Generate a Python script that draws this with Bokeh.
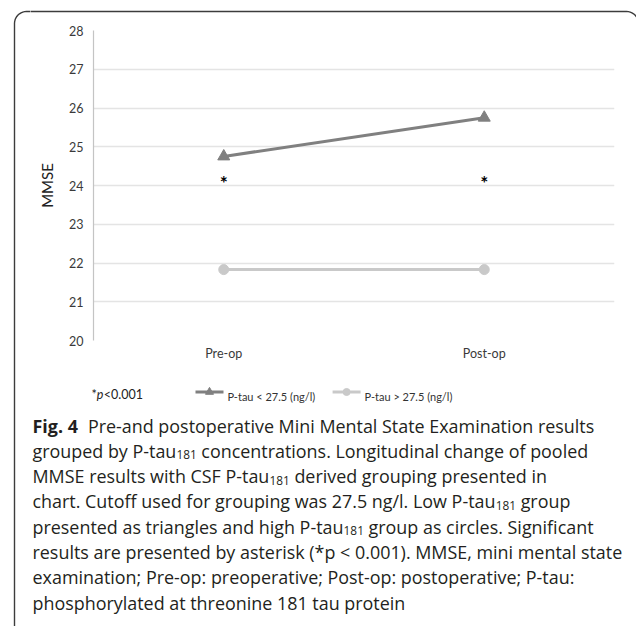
import math
import struct
import subprocess

from bokeh.core.properties import value
from bokeh.embed import file_html
from bokeh.layouts import column, row
from bokeh.models import ColumnDataSource, FactorRange, FixedTicker, Range1d
from bokeh.plotting import figure
from bokeh.resources import INLINE

# ---------------- data ----------------
categories = ["Pre-op", "Post-op"]
low_ptau = [24.75, 25.75]      # P-tau < 27.5 (triangles)
high_ptau = [21.83, 21.83]     # P-tau > 27.5 (circles)
sig_y = [24.15, 24.15]         # asterisk positions
sig_text = ["*", "*"]
y_ticks = [20, 21, 22, 23, 24, 25, 26, 27, 28]
legend_labels = ["P-tau < 27.5 (ng/l)", "P-tau > 27.5 (ng/l)"]
y_title = "MMSE"
note_parts = [("*", "normal"), ("p", "italic"), ("<0.001", "normal")]

caption_lines = [
    [("Fig. 4", "b"), ("  Pre-and postoperative Mini Mental State Examination results", "r")],
    [("grouped by P-tau", "r"), ("181", "sub"), (" concentrations. Longitudinal change of pooled", "r")],
    [("MMSE results with CSF P-tau", "r"), ("181", "sub"), (" derived grouping presented in", "r")],
    [("chart. Cutoff used for grouping was 27.5 ng/l. Low P-tau", "r"), ("181", "sub"), (" group", "r")],
    [("presented as triangles and high P-tau", "r"), ("181", "sub"), (" group as circles. Significant", "r")],
    [("results are presented by asterisk (*p < 0.001). MMSE, mini mental state", "r")],
    [("examination; Pre-op: preoperative; Post-op: postoperative; P-tau:", "r")],
    [("phosphorylated at threonine 181 tau protein", "r")],
]


# ---------------- font metrics (for placing text segments) ----------------
class Metrics:
    def __init__(self, path):
        d = open(path, "rb").read()
        if d[:4] == b"ttcf":
            raise ValueError("collection")
        n = struct.unpack(">H", d[4:6])[0]
        t = {}
        for i in range(n):
            tag, _, off, _ln = struct.unpack(">4sIII", d[12 + 16 * i:28 + 16 * i])
            t[tag] = off
        self.upem = struct.unpack(">H", d[t[b"head"] + 18:t[b"head"] + 20])[0]
        nhm = struct.unpack(">H", d[t[b"hhea"] + 34:t[b"hhea"] + 36])[0]
        ho = t[b"hmtx"]
        self.adv = [struct.unpack(">H", d[ho + 4 * i:ho + 4 * i + 2])[0] for i in range(nhm)]
        co = t[b"cmap"]
        nsub = struct.unpack(">H", d[co + 2:co + 4])[0]
        sub = None
        for i in range(nsub):
            pid, eid, so = struct.unpack(">HHI", d[co + 4 + 8 * i:co + 12 + 8 * i])
            if struct.unpack(">H", d[co + so:co + so + 2])[0] == 4:
                sub = co + so
                if pid == 3 and eid == 1:
                    break
        segx2 = struct.unpack(">H", d[sub + 6:sub + 8])[0]
        ns = segx2 // 2
        ends = struct.unpack(">%dH" % ns, d[sub + 14:sub + 14 + segx2])
        starts = struct.unpack(">%dH" % ns, d[sub + 16 + segx2:sub + 16 + 2 * segx2])
        deltas = struct.unpack(">%dh" % ns, d[sub + 16 + 2 * segx2:sub + 16 + 3 * segx2])
        ro = sub + 16 + 3 * segx2
        roffs = struct.unpack(">%dH" % ns, d[ro:ro + segx2])
        self.cmap = {}
        for s in range(ns):
            for c in range(starts[s], min(ends[s], 0x24FF) + 1):
                if roffs[s] == 0:
                    g = (c + deltas[s]) & 0xFFFF
                else:
                    a = ro + 2 * s + roffs[s] + 2 * (c - starts[s])
                    g = struct.unpack(">H", d[a:a + 2])[0]
                    if g:
                        g = (g + deltas[s]) & 0xFFFF
                self.cmap[c] = g

    def width(self, s, size):
        tot = 0
        for ch in s:
            g = self.cmap.get(ord(ch), 0)
            tot += self.adv[g] if g < len(self.adv) else self.adv[-1]
        return tot * size / self.upem


class Approx:
    def __init__(self, k=0.53):
        self.k = k

    def width(self, s, size):
        return len(s) * self.k * size


def font_file(family, style):
    try:
        out = subprocess.run(["fc-match", "-f", "%{file}", f"{family}:style={style}"],
                             capture_output=True, text=True, timeout=5).stdout.strip()
        return out or None
    except Exception:
        return None


def metrics(family, style, fallback_k=0.53):
    f = font_file(family, style)
    try:
        return Metrics(f), f
    except Exception:
        return Approx(fallback_k), f


CAP_FONT = "Open Sans"
cap_reg, f_reg = metrics(CAP_FONT, "Regular")
cap_bold, f_bold = metrics(CAP_FONT, "Bold", 0.57)
bold_scale = 1.07 if (f_bold == f_reg) else 1.0
CHART_FONT = "Lato"
chart_reg, _ = metrics(CHART_FONT, "Regular", 0.5)

# ---------------- layout (page px) ----------------
PW, PH = 636, 626
LW = 30                 # left strip width
TOPH = 22               # top strip height
CH_BOTTOM = 372         # bottom of chart figure on page
FL, FR, FT, FB = 93, 614, 30, 340   # plot frame on page
RW = PW - LW
BORDER = dict(line_color="#3c3c3c", line_width=1.4)
bl, bt, br, bb, rad = 14.0, 11.0, 638.0, 638.0, 12.0


def blank_fig(w, h, xr, yr):
    f = figure(width=w, height=h, output_backend="svg", toolbar_location=None,
               x_range=Range1d(*xr), y_range=Range1d(*yr), min_border=0,
               x_axis_type=None, y_axis_type=None, frame_align=False,
               background_fill_color="white", border_fill_color="white")
    f.outline_line_color = None
    f.grid.visible = False
    return f


def arc_pts(cx, cy, a0, a1, n=10):
    xs, ys = [], []
    for k in range(n + 1):
        a = math.radians(a0 + (a1 - a0) * k / n)
        xs.append(cx + rad * math.cos(a))
        ys.append(cy + rad * math.sin(a))
    return xs, ys


# full rounded border path in page coordinates (y down)
bx, by = [], []
for (cx, cy, a0, a1) in [(bl + rad, bb - rad, 90, 180), (bl + rad, bt + rad, 180, 270),
                         (br - rad, bt + rad, 270, 360), (br - rad, bb - rad, 0, 90)]:
    xs, ys = arc_pts(cx, cy, a0, a1)
    bx += xs
    by += ys
bx.append(bx[0])
by.append(by[0])

# left strip, top strip: page coordinates (y range reversed)
left_fig = blank_fig(LW, PH, (0, LW), (PH, 0))
left_fig.line(bx, by, **BORDER)
top_fig = blank_fig(RW, TOPH, (LW, PW), (TOPH, 0))
top_fig.line(bx, by, **BORDER)

# ---------------- chart ----------------
p = figure(width=RW, height=CH_BOTTOM - TOPH, output_backend="svg", toolbar_location=None,
           x_range=FactorRange(*categories), y_range=Range1d(20, 28),
           min_border_left=FL - LW, min_border_right=PW - FR, min_border_top=FT - TOPH,
           min_border_bottom=CH_BOTTOM - FB, background_fill_color="white",
           border_fill_color="white", frame_align=False)
p.outline_line_color = None
p.xgrid.grid_line_color = None
p.ygrid.grid_line_color = "#e4e4e4"
p.ygrid.grid_line_width = 1.3
p.yaxis.ticker = FixedTicker(ticks=y_ticks)
p.ygrid.ticker = FixedTicker(ticks=y_ticks)

for ax in (p.xaxis[0], p.yaxis[0]):
    ax.major_tick_line_color = None
    ax.minor_tick_line_color = None
    ax.major_tick_out = 0
    ax.major_tick_in = 0
    ax.major_label_text_font = CHART_FONT
    ax.major_label_text_color = "#3a3a3a"
    ax.major_label_text_font_size = "12.5px"

p.xaxis.axis_line_color = None
p.xaxis.major_label_standoff = 5
p.yaxis.axis_line_color = "#c4c4c4"
p.yaxis.axis_line_width = 1.2
p.yaxis.major_label_standoff = 10
p.yaxis.axis_label = y_title
p.yaxis.axis_label_text_font = CHART_FONT
p.yaxis.axis_label_text_font_style = "normal"
p.yaxis.axis_label_text_font_size = "15px"
p.yaxis.axis_label_text_color = "#222222"
p.yaxis.axis_label_standoff = 10

DARK = "#808080"
LIGHT = "#c9c9c9"
src = ColumnDataSource(dict(cat=categories, low=low_ptau, high=high_ptau))
p.line("cat", "low", source=src, line_color=DARK, line_width=3)
p.scatter("cat", "low", source=src, marker="triangle", size=12,
          fill_color=DARK, line_color=DARK)
p.line("cat", "high", source=src, line_color=LIGHT, line_width=3)
p.scatter("cat", "high", source=src, marker="circle", size=10,
          fill_color=LIGHT, line_color=LIGHT)
p.text(x=categories, y=sig_y, text=sig_text, text_font=value(CHART_FONT),
       text_font_size=value("19px"), text_align="center", text_baseline="middle",
       text_font_style="bold", y_offset=3, text_color="black")

# ---------------- bottom: note, legend, caption (page coordinates) ----------------
bot = blank_fig(RW, PH - CH_BOTTOM, (LW, PW), (PH, CH_BOTTOM))
bot.line(bx, by, **BORDER)

# significance note
note_fs = 12.5
nx = 91.0
for txt, style in note_parts:
    bot.text(x=[nx], y=[394], text=[txt], text_font=value(CHART_FONT),
             text_font_style=style, text_font_size=value(f"{note_fs}px"),
             text_color="#222222", text_baseline="alphabetic", text_align="left")
    nx += chart_reg.width(txt, note_fs)

# legend
leg_fs = 11.0
lx = 195.0
leg_y = 391.5
for lab, col, mk, ms in [(legend_labels[0], DARK, "triangle", 8),
                         (legend_labels[1], LIGHT, "circle", 7)]:
    bot.line([lx, lx + 28], [leg_y, leg_y], line_color=col, line_width=3)
    bot.scatter([lx + 14], [leg_y], marker=mk, size=ms, fill_color=col, line_color=col)
    bot.text(x=[lx + 32], y=[leg_y + 4], text=[lab], text_font=value(CHART_FONT),
             text_font_size=value(f"{leg_fs}px"), text_color="#333333",
             text_baseline="alphabetic", text_align="left")
    lx = lx + 32 + chart_reg.width(lab, leg_fs) + 17


# caption
def seg_metrics(kind):
    return cap_bold if kind == "b" else cap_reg


def line_unit(segs):
    tot = 0.0
    for txt, kind in segs:
        k = 0.66 if kind == "sub" else 1.0
        w = seg_metrics(kind).width(txt, k)
        if kind == "b":
            w *= bold_scale
        tot += w
    return tot


max_unit = max(line_unit(s) for s in caption_lines)
cap_fs = max(14.0, min(18.5, 590.0 / max_unit))
sub_fs = cap_fs * 0.66
base0, lead = 425.0, 25.3
CAP_COLOR = "#231f20"
for i, segs in enumerate(caption_lines):
    cx = 32.0
    base = base0 + i * lead
    for txt, kind in segs:
        if kind == "sub":
            fs, yy, style = sub_fs, base + 4.0, "normal"
        elif kind == "b":
            fs, yy, style = cap_fs, base, "bold"
        else:
            fs, yy, style = cap_fs, base, "normal"
        m = seg_metrics(kind)
        core = txt.strip(" ")
        lead_sp = len(txt) - len(txt.lstrip(" "))
        trail_sp = len(txt) - len(txt.rstrip(" "))
        cx += cap_reg.width(" " * lead_sp, cap_fs)
        bot.text(x=[cx], y=[yy], text=[core], text_font=value(CAP_FONT),
                 text_font_style=style, text_font_size=value(f"{fs:.2f}px"),
                 text_color=CAP_COLOR, text_baseline="alphabetic", text_align="left")
        w = m.width(core, fs)
        if kind == "b":
            w *= bold_scale
        cx += w + cap_reg.width(" " * trail_sp, cap_fs)

layout = row(left_fig, column(top_fig, p, bot))
open("out.html", "w").write(file_html(layout, INLINE))
